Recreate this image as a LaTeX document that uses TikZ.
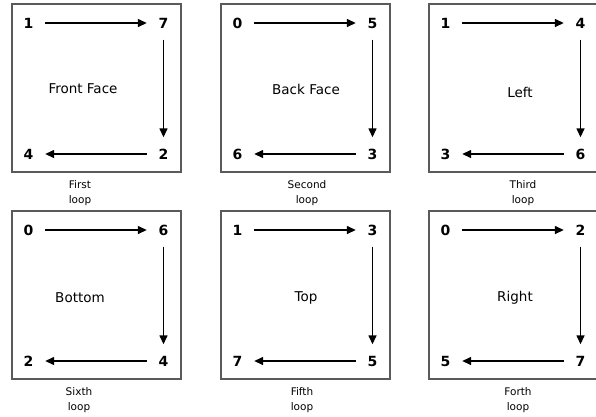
\documentclass[tikz,border=0pt]{standalone}
\usepackage{fontspec}
\setmainfont{DejaVu Sans}
\usetikzlibrary{arrows.meta}
\definecolor{boxgray}{HTML}{5A5A5A}
\tikzset{
  facebox/.style={draw=boxgray, line width=1.2pt, rectangle, minimum width=169pt, minimum height=168pt, inner sep=0pt},
  num/.style={circle, minimum size=33pt, inner sep=0pt, font=\fontsize{14}{16}\selectfont\bfseries},
  facelabel/.style={font=\fontsize{13.5}{16}\selectfont},
  caption/.style={font=\fontsize{10.5}{15}\selectfont, align=center},
  arr/.style={line width=1.4pt, -{Triangle[length=9pt,width=8pt]}},
}
\newcommand\facebox[7]{%
  \node[facebox] (#3box) at (#1+84.5,#2+84) {};
  \node[num] (#3a) at (#1+16.5,#2+19) {#4};
  \node[num] (#3b) at (#1+151.5,#2+19) {#5};
  \node[num] (#3c) at (#1+151.5,#2+150) {#6};
  \node[num] (#3d) at (#1+16.5,#2+150) {#7};
  \draw[arr] (#3a) -- (#3b);
  \draw[arr] (#3b) -- (#3c);
  \draw[arr] (#3c) -- (#3d);
}
\begin{document}
\begin{tikzpicture}[x=1pt,y=-1pt]
\useasboundingbox (0,0) rectangle (596,416);
\clip (0,0) rectangle (596,416);
\facebox{12}{4}{f}{1}{7}{2}{4}
\facebox{221}{4}{k}{0}{5}{3}{6}
\facebox{429}{4}{l}{1}{4}{6}{3}
\facebox{12}{211}{m}{0}{6}{4}{2}
\facebox{221}{211}{t}{1}{3}{5}{7}
\facebox{429}{211}{r}{0}{2}{7}{5}
\node[facelabel] (flab) at (83,89) {Front Face};
\node[facelabel] (klab) at (306,89) {Back Face};
\node[facelabel] (llab) at (520,92) {Left};
\node[facelabel] (mlab) at (80,298) {Bottom};
\node[facelabel] (tlab) at (306,298) {Top};
\node[facelabel] (rlab) at (515,298) {Right};
\node[caption] (fcap) at (80,193) {First\\loop};
\node[caption] (kcap) at (307,193) {Second\\loop};
\node[caption] (lcap) at (523,193) {Third\\loop};
\node[caption] (mcap) at (79,400) {Sixth\\loop};
\node[caption] (tcap) at (302,400) {Fifth\\loop};
\node[caption] (rcap) at (518,400) {Forth\\loop};
\end{tikzpicture}
\end{document}
